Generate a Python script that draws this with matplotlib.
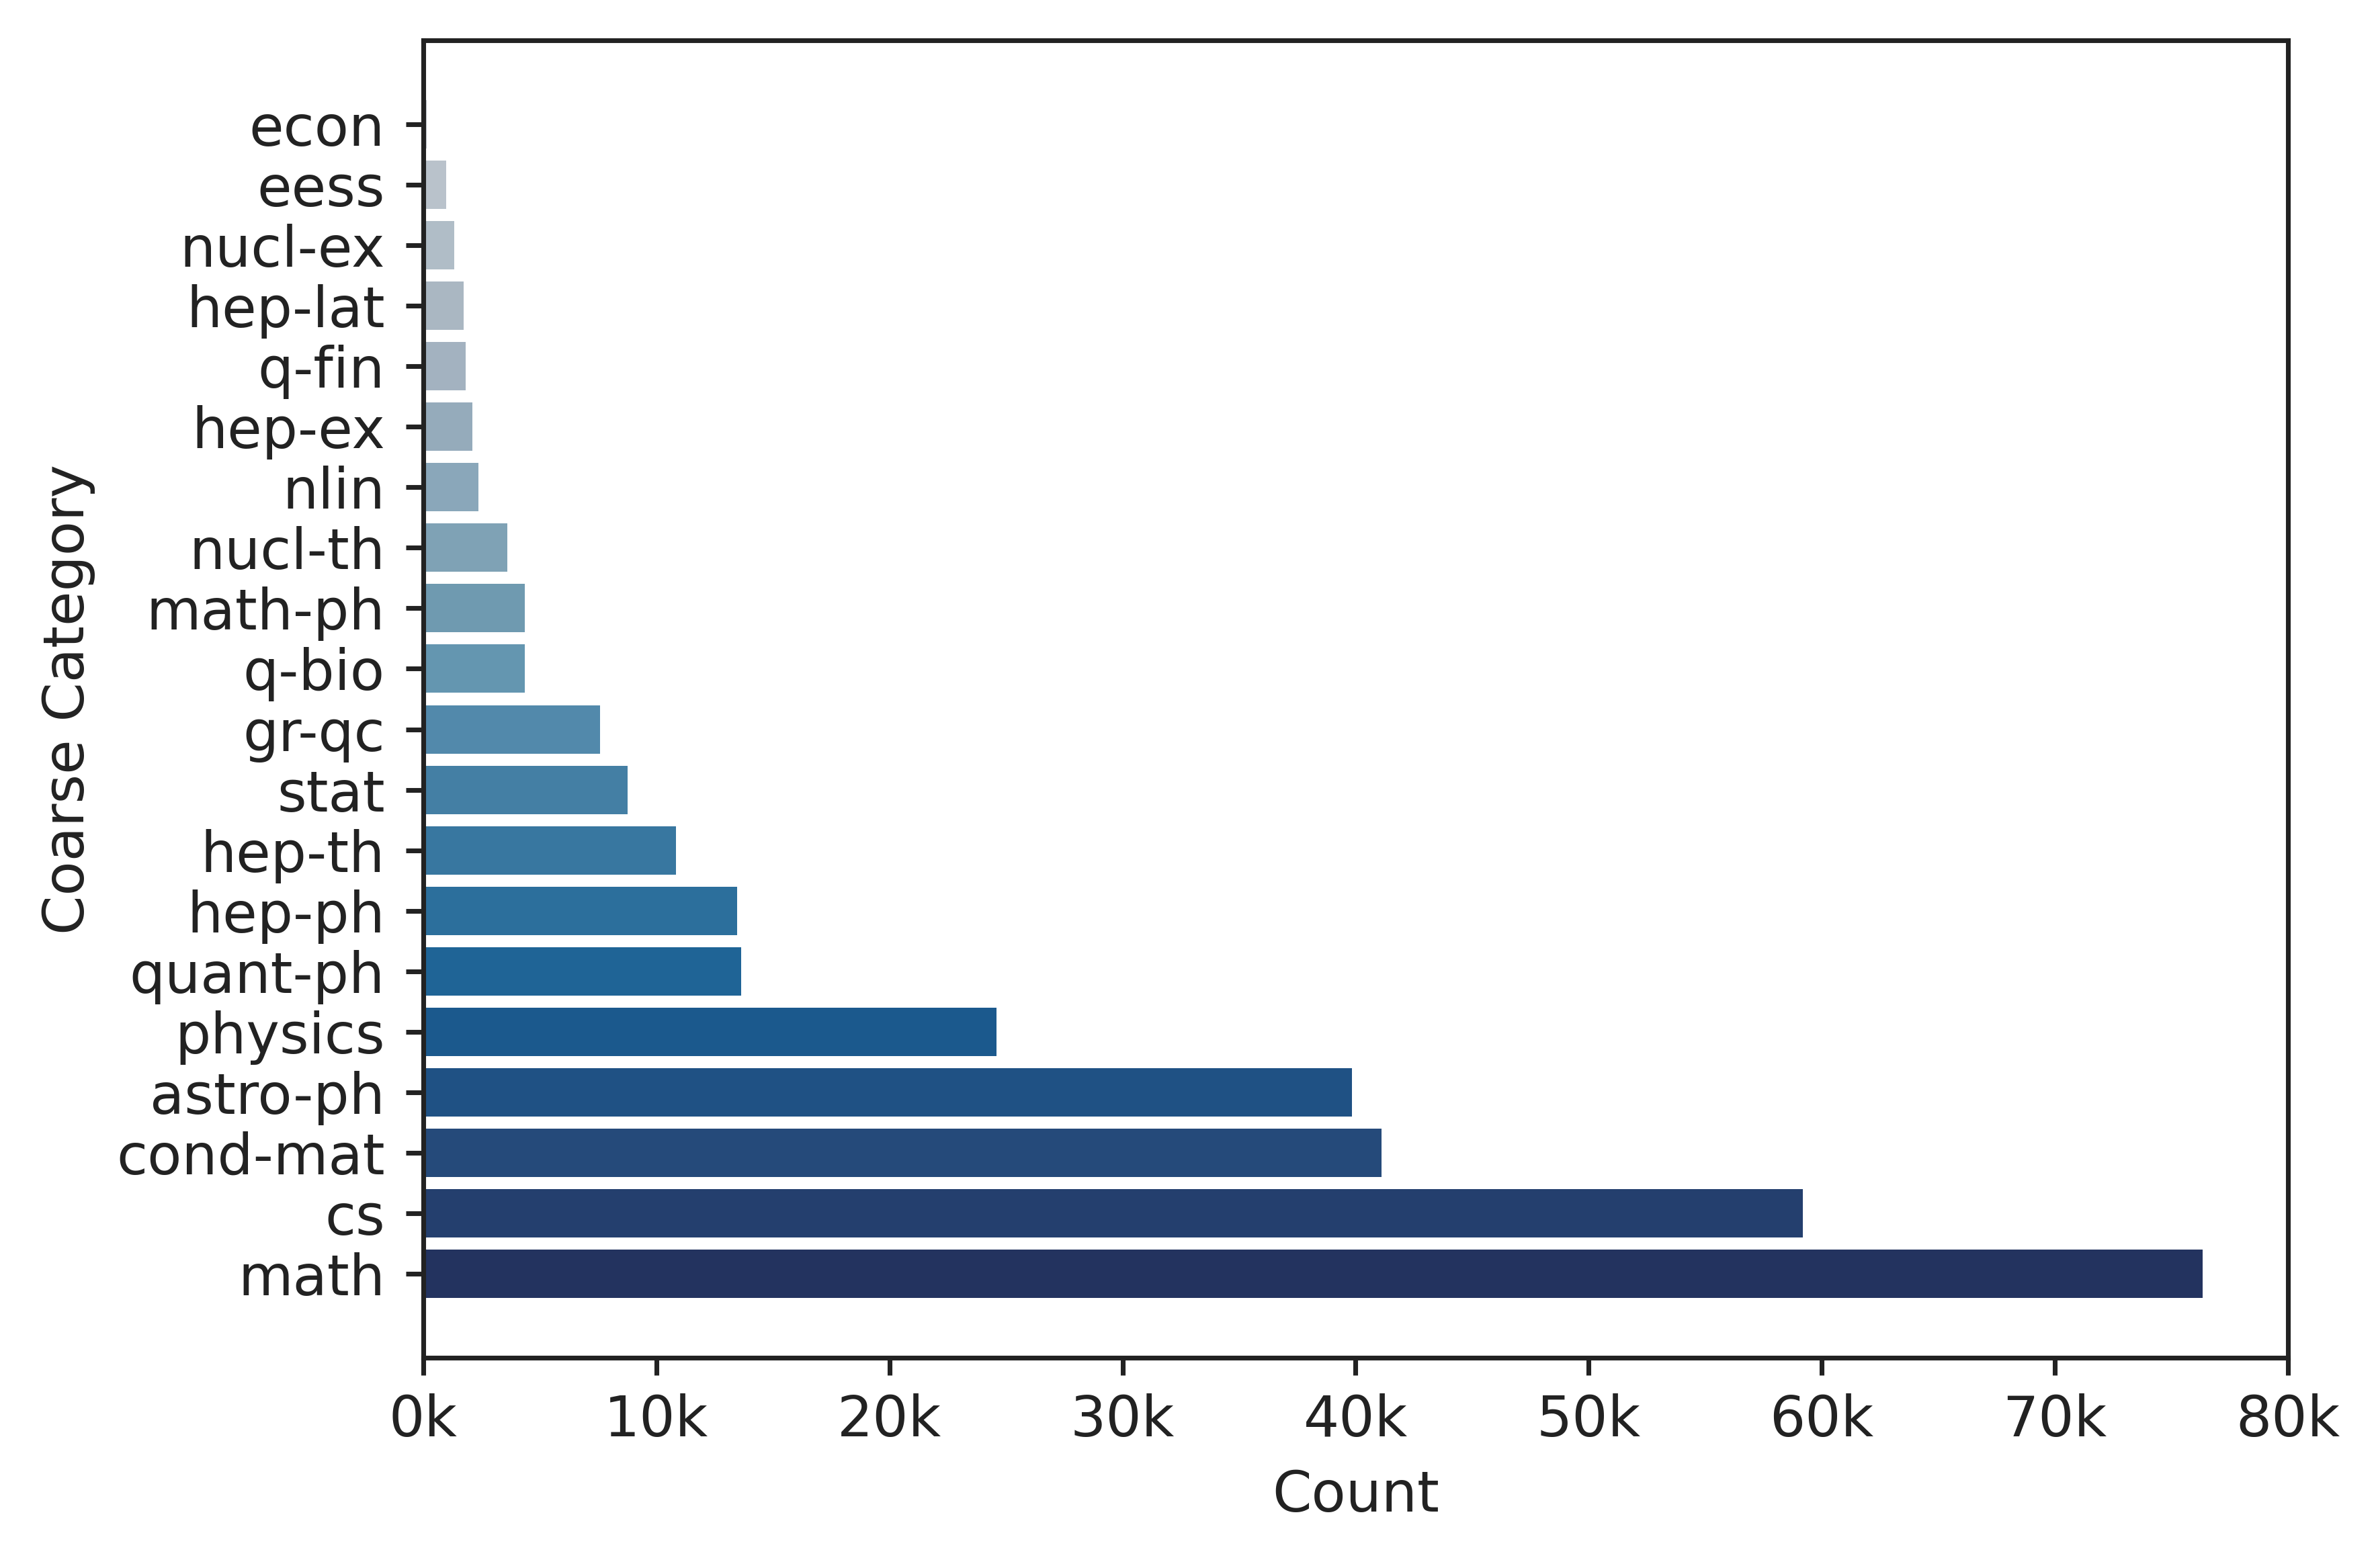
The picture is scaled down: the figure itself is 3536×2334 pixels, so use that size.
import matplotlib
matplotlib.use("Agg")
import matplotlib.pyplot as plt
from matplotlib.ticker import FuncFormatter, MultipleLocator

# Data (bottom to top)
categories = ["math", "cs", "cond-mat", "astro-ph", "physics", "quant-ph", "hep-ph",
              "hep-th", "stat", "gr-qc", "q-bio", "math-ph", "nucl-th", "nlin",
              "hep-ex", "q-fin", "hep-lat", "nucl-ex", "eess", "econ"]
counts = [76350, 59200, 41100, 39850, 24600, 13650, 13450,
          10850, 8770, 7590, 4350, 4350, 3590, 2350,
          2110, 1820, 1730, 1330, 980, 150]

# Palette (style)
palette = ["#23335f", "#243f6e", "#254a7a", "#1f5184", "#1b598d", "#1f6496", "#2c6f9c",
           "#3877a0", "#447fa4", "#5289ab", "#6496b0", "#6f9ab0", "#7fa2b5", "#8aa7ba",
           "#95abbb", "#a3b2c0", "#aab7c2", "#b0bdc7", "#b9c2cb", "#c0c8cf"]

dark = "#222222"
fs = 20.1
plt.rcParams["font.family"] = ["DejaVu Sans"]
plt.rcParams["font.size"] = fs

W, H = 3537, 2334
fig = plt.figure(figsize=(W / 300, H / 300), dpi=300)
ax = fig.add_axes([630 / W, (H - 2021) / H, (3405 - 630) / W, (2021 - 60) / H])

ax.barh(range(len(categories)), counts, height=0.8, color=palette)
ax.set_yticks(range(len(categories)))
ax.set_yticklabels(categories)
ax.set_xlim(0, 80000)
ax.xaxis.set_major_locator(MultipleLocator(10000))
ax.xaxis.set_major_formatter(FuncFormatter(lambda v, p: f"{int(round(v / 1000))}k"))

for s in ax.spines.values():
    s.set_linewidth(1.7)
    s.set_color(dark)
ax.tick_params(axis="both", length=6.2, width=1.7, color=dark, labelcolor=dark,
               labelsize=fs)
ax.tick_params(axis="x", pad=6.5)
ax.tick_params(axis="y", pad=7.5)
ax.set_xlabel("Count", color=dark, fontsize=fs, labelpad=7.5)
ax.set_ylabel("Coarse Category", color=dark, fontsize=fs, labelpad=7.5)

fig.savefig("out.png", dpi=300, facecolor="white")
